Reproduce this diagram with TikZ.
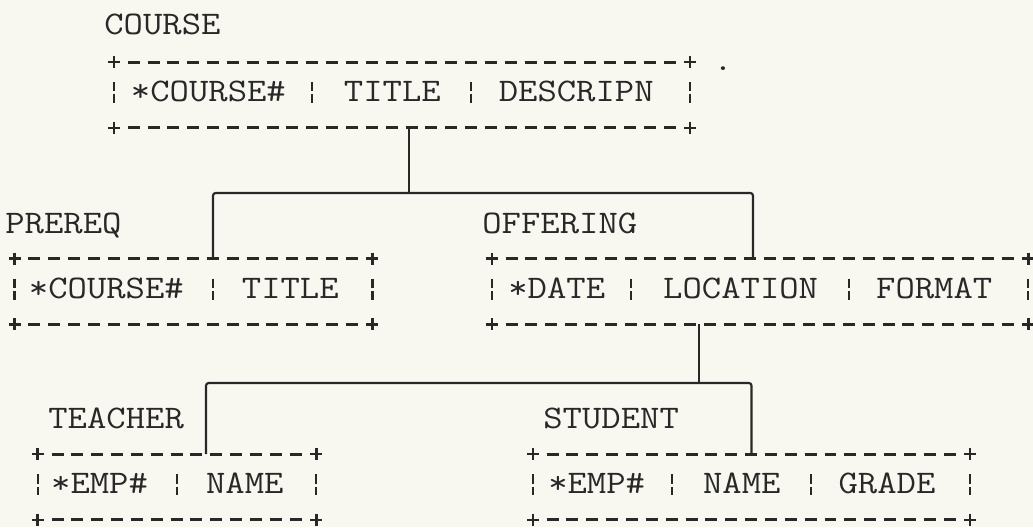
\documentclass[tikz,border=0pt]{standalone}
\usepackage{fontspec}
\setmonofont{Latin Modern Mono}[FakeStretch=1.1404]
\definecolor{ink}{HTML}{282828}
\definecolor{paper}{HTML}{F8F8F1}
\newcommand{\typefont}{\ttfamily\fontsize{18.76pt}{22pt}\selectfont}
\newcommand{\gap}{\hphantom{0}}
\tikzset{
  entity/.style={minimum width=#1*0.397cm,minimum height=1.3cm,inner sep=0pt,
    text height=9.4pt,text depth=1.9pt,font=\typefont,text=ink},
  entname/.style={anchor=base west,inner sep=0pt,font=\typefont,text=ink},
  border/.style={ink,line width=1.8pt,dash pattern=on 0.24cm off 0.157cm,
    shorten <=0.276cm,shorten >=0.276cm},
  corner/.style={ink,line width=1.4pt},
  fieldbar/.style={ink,line width=1.2pt,dash pattern=on 0.19cm off 0.06cm},
  link/.style={ink,line width=1.2pt,rounded corners=1.5pt},
}

\begin{document}
\begin{tikzpicture}[x=0.02cm,y=-0.02cm]
  \fill[paper] (0,0) rectangle (1033,527);
  \useasboundingbox (0,0) rectangle (1033,527);
  % record boxes
  \node[entity=29] (course)   at (402,95)      {*COURSE\#\gap\gap\gap TITLE\gap\gap\gap DESCRIPN\gap};
  \node[entity=18] (prereq)   at (193.5,291.5) {*COURSE\#\gap\gap\gap TITLE\gap};
  \node[entity=27] (offering) at (760,291.5)   {*DATE\gap\gap\gap LOCATION\gap\gap\gap FORMAT\gap};
  \node[entity=14] (teacher)  at (177,487)     {*EMP\#\gap\gap\gap NAME\gap};
  \node[entity=22] (student)  at (751.5,487)   {*EMP\#\gap\gap\gap NAME\gap\gap\gap GRADE\gap};
  % record names
  \node[entname] (coursename)   at (104,34.4)  {COURSE};
  \node[entname] (prereqname)   at (5,233.4)   {PREREQ};
  \node[entname] (offeringname) at (482,233.4) {OFFERING};
  \node[entname] (teachername)  at (48,428.4)  {TEACHER};
  \node[entname] (studentname)  at (543,428.4) {STUDENT};
  \node[entname] (stray)        at (713,71)    {.};
  % typed borders
  \foreach \b in {course,prereq,offering,teacher,student}{
    \draw[border] (\b.north west) -- (\b.north east);
    \draw[border] (\b.south west) -- (\b.south east);
    \foreach \c in {north west,north east,south west,south east}
      \draw[corner] (\b.\c) +(-6,0) -- +(6,0) +(0,-6) -- +(0,6);
    \draw[fieldbar] (\b.west) ++(0,-13) -- ++(0,21);
    \draw[fieldbar] (\b.east) ++(0,-13) -- ++(0,21);
  }
  \foreach \b/\k in {course/10,course/18,prereq/10,offering/7,offering/18,
                     teacher/7,student/7,student/14}
    \draw[fieldbar] ([xshift=\k*0.397cm]\b.west) ++(0,-13) -- ++(0,21);
  % hierarchy
  \coordinate (bus1) at (409,193);
  \coordinate (bus2) at (699,383);
  \draw[link] (course.south -| bus1) -- (bus1);
  \draw[link] ([xshift=3.97cm]prereq.north west) |- (bus1) -| ([xshift=-0.14cm]offering.north);
  \draw[link] (offering.south -| bus2) -- (bus2);
  \draw[link] ([xshift=0.58cm]teacher.north) |- (bus2) -| (student.north);
\end{tikzpicture}
\end{document}
